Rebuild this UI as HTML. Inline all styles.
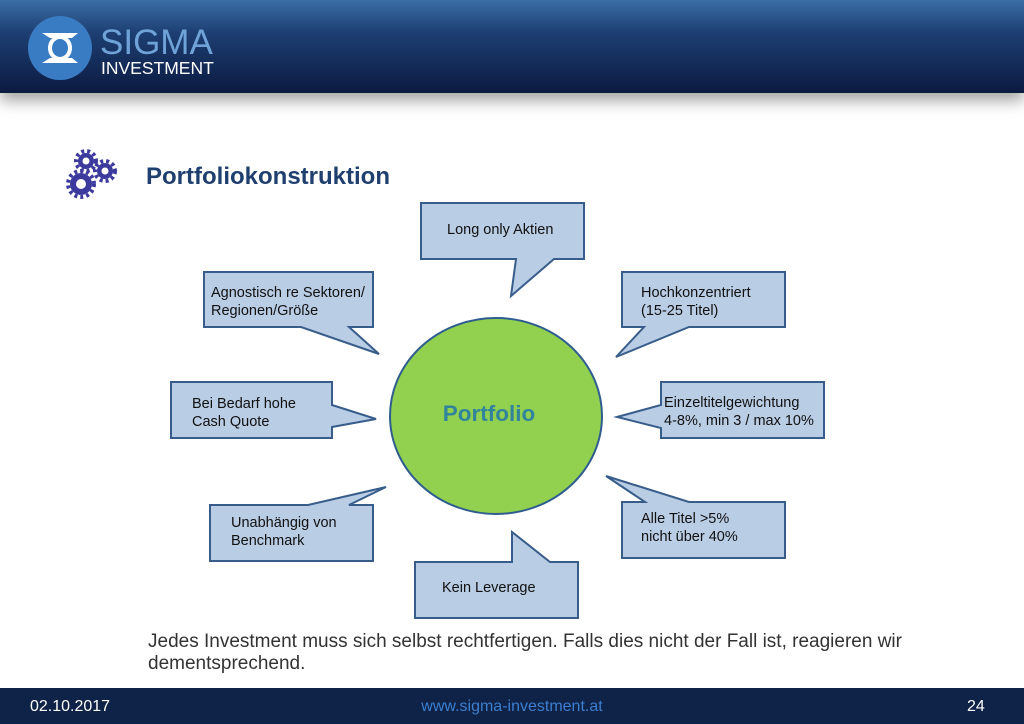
<!DOCTYPE html>
<html><head><meta charset="utf-8"><style>
body{margin:0;width:1024px;height:724px;overflow:hidden;background:#fff;font-family:"Liberation Sans",sans-serif;position:relative}
.hdr{position:absolute;left:0;top:0;width:1024px;height:93px;background:linear-gradient(#3a6ea6 0%,#1d3f73 35%,#0b1a40 100%);box-shadow:0 8px 14px rgba(0,0,0,0.35)}
.ftr{position:absolute;left:0;top:688px;width:1024px;height:36px;background:#0f2247;color:#fff;font-size:16px}
.t{position:absolute;font-size:14.5px;color:#111;line-height:18px}
</style></head><body>
<div class="hdr"></div>
<svg style="position:absolute;left:0;top:0" width="1024" height="724">
 <circle cx="60" cy="48" r="32" fill="#3a7cc4"/>
 <path d="M42 33 H78 L72 38 H50 Z M42 63 H78 L72 58 H50 Z" fill="#fff"/>
 <ellipse cx="60" cy="48" rx="10" ry="11" fill="none" stroke="#fff" stroke-width="4"/>
 <text x="100" y="54" font-family="Liberation Sans" font-size="35" fill="#6fa3d8">SIGMA</text>
 <text x="101" y="74" font-family="Liberation Sans" font-size="17.5" fill="#fff">INVESTMENT</text>
 <g fill="#3d3a9e">
  <circle cx="81" cy="184" r="11"/><circle cx="86" cy="161" r="8"/><circle cx="105" cy="171" r="8"/>
  <g stroke="#3d3a9e" stroke-width="4" stroke-dasharray="3 3"><circle cx="81" cy="184" r="13" fill="none"/><circle cx="86" cy="161" r="10" fill="none"/><circle cx="105" cy="171" r="10" fill="none"/></g>
  <circle cx="81" cy="184" r="5" fill="#fff"/><circle cx="86" cy="161" r="3.5" fill="#fff"/><circle cx="105" cy="171" r="3.5" fill="#fff"/>
 </g>
 <text x="146" y="184" font-family="Liberation Sans" font-weight="bold" font-size="24" fill="#1f3f6e">Portfoliokonstruktion</text>
 <g fill="#b9cde5" stroke="#385d8a" stroke-width="2" stroke-linejoin="miter">
  <path d="M421 203 H584 V259 H554 L511 296 L516 259 H421 Z"/>
  <path d="M204 272 H373 V327 H349 L379 354 L301 327 H204 Z"/>
  <path d="M622 272 H785 V327 H689 L616 357 L644 327 H622 Z"/>
  <path d="M171 382 H332 V405 L376 419 L332 427 V438 H171 Z"/>
  <path d="M661 382 H824 V438 H661 V428 L617 417 L661 405 Z"/>
  <path d="M210 505 H308 L386 487 L349 505 H373 V561 H210 Z"/>
  <path d="M622 502 H645 L606 476 L689 502 H785 V558 H622 Z"/>
  <path d="M415 562 H512 V532 L550 562 H578 V618 H415 Z"/>
 </g>
 <ellipse cx="496" cy="416" rx="106" ry="98" fill="#92d050" stroke="#2f5e8e" stroke-width="2"/>
 <text x="489" y="421" text-anchor="middle" font-family="Liberation Sans" font-weight="bold" font-size="22.5" fill="#31849b">Portfolio</text>
</svg>
<div class="t" style="left:447px;top:221px">Long only Aktien</div>
<div class="t" style="left:211px;top:284px">Agnostisch re Sektoren/<br>Regionen/Größe</div>
<div class="t" style="left:641px;top:284px">Hochkonzentriert<br>(15-25 Titel)</div>
<div class="t" style="left:192px;top:395px">Bei Bedarf hohe<br>Cash Quote</div>
<div class="t" style="left:664px;top:394px">Einzeltitelgewichtung<br>4-8%, min 3 / max 10%</div>
<div class="t" style="left:231px;top:514px">Unabhängig von<br>Benchmark</div>
<div class="t" style="left:641px;top:510px">Alle Titel &gt;5%<br>nicht über 40%</div>
<div class="t" style="left:442px;top:579px">Kein Leverage</div>
<div style="position:absolute;left:148px;top:631px;font-size:19px;line-height:22px;color:#333;white-space:nowrap">Jedes Investment muss sich selbst rechtfertigen. Falls dies nicht der Fall ist, reagieren wir<br>dementsprechend.</div>
<div class="ftr">
 <span style="position:absolute;left:30px;top:10px">02.10.2017</span>
 <span style="position:absolute;left:0;width:1024px;text-align:center;top:10px;color:#3c7fd0">www.sigma-investment.at</span>
 <span style="position:absolute;left:967px;top:10px">24</span>
</div>
</body></html>
